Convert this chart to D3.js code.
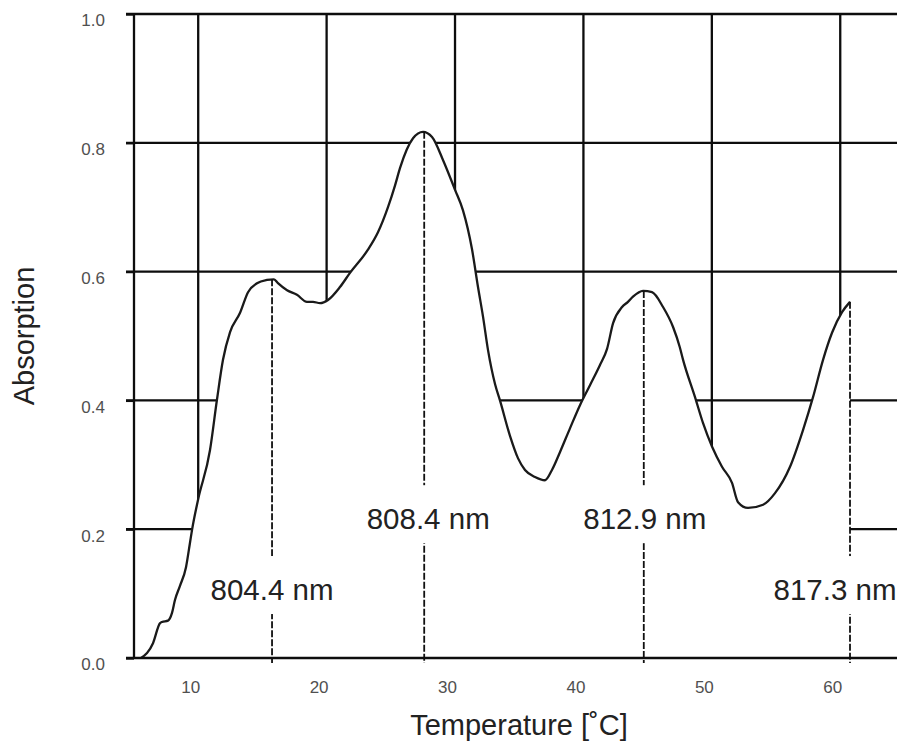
<!DOCTYPE html>
<html>
<head>
<meta charset="utf-8">
<script src="https://cdn.jsdelivr.net/npm/d3@7"></script>
<style>
body { margin: 0; background: #fff; }
text { font-family: "Liberation Sans", Arial, Helvetica, sans-serif; }
</style>
</head>
<body>
<div id="chart"></div>
<script>
// absorption curve
var temps = [5.55, 6.48, 7.02, 7.18, 7.65, 7.96, 8.19, 8.58, 9.05, 9.36, 9.52, 9.98,
             10.92, 11.46, 11.93, 12.48, 13.26, 13.88, 14.58, 15.36, 15.9, 16.21, 16.92,
             17.69, 18.47, 18.94, 19.49, 20.11, 21.04, 21.82, 23.22, 24.0, 24.78, 25.33,
             25.72, 26.73, 27.51, 28.21, 29.07, 30.0, 30.62, 31.32, 31.79, 32.18, 32.57,
             33.12, 33.5, 34.28, 34.91, 35.45, 36.23, 37.01, 37.55, 38.18, 38.96, 39.74,
             40.52, 41.29, 41.84, 42.31, 43.01, 43.47, 43.86, 44.64, 45.34, 46.2, 46.98,
             47.5, 47.76, 48.69, 49.31, 50.02, 50.79, 51.57, 52.04, 52.82, 53.99, 54.92,
             56.09, 57.1, 57.88, 58.66, 59.36, 60.14, 60.76];
var absorb = [0.0, 0.023, 0.054, 0.056, 0.058, 0.07, 0.09, 0.112, 0.141, 0.179, 0.199, 0.245,
              0.323, 0.401, 0.463, 0.506, 0.536, 0.568, 0.582, 0.587, 0.588, 0.582, 0.571,
              0.564, 0.553, 0.553, 0.551, 0.556, 0.576, 0.598, 0.634, 0.661, 0.7, 0.734,
              0.761, 0.807, 0.817, 0.809, 0.773, 0.727, 0.695, 0.635, 0.576, 0.53, 0.478,
              0.425, 0.4, 0.345, 0.31, 0.292, 0.281, 0.276, 0.292, 0.32, 0.357, 0.393,
              0.424, 0.455, 0.48, 0.52, 0.545, 0.553, 0.561, 0.57, 0.568, 0.545, 0.514,
              0.483, 0.463, 0.405, 0.365, 0.328, 0.297, 0.272, 0.242, 0.233, 0.238, 0.256,
              0.297, 0.354, 0.405, 0.463, 0.505, 0.537, 0.553];

// peaks and their wavelength labels
var peakTemps  = [15.75, 27.6, 44.7, 60.76];
var peakAbs    = [0.588, 0.817, 0.57, 0.553];
var peakLabels = ["804.4 nm", "808.4 nm", "812.9 nm", "817.3 nm"];
var labelLevel = [0.09, 0.2, 0.2, 0.09];
var labelShift = [0, 4, 1, -15];

var xTicks = [10, 20, 30, 40, 50, 60];
var yTicks = [0, 0.2, 0.4, 0.6, 0.8, 1.0];

var W = 897, H = 746;
var margin = {top: 14, left: 134, bottom: 88};
var width = W - margin.left,
    height = H - margin.top - margin.bottom;

var svg = d3.select("#chart").append("svg")
    .attr("width", W)
    .attr("height", H)
    .style("background", "#fff");

var g = svg.append("g")
    .attr("transform", "translate(" + margin.left + "," + margin.top + ")");

var x = d3.scaleLinear().domain([5, 64.42]).range([0, width]);
var y = d3.scaleLinear().domain([0, 1]).range([height, 0]);

var data = temps.map(function(t, i) { return {t: t, a: absorb[i]}; });

// grid
g.append("g").selectAll("line")
    .data(yTicks.filter(function(d) { return d > 0; }))
    .enter().append("line")
    .attr("x1", -8).attr("x2", width)
    .attr("y1", function(d) { return y(d); })
    .attr("y2", function(d) { return y(d); })
    .attr("stroke", "#0d0d0d").attr("stroke-width", 2.3);

g.append("g").selectAll("line")
    .data(xTicks)
    .enter().append("line")
    .attr("x1", function(d) { return x(d); })
    .attr("x2", function(d) { return x(d); })
    .attr("y1", 0).attr("y2", height)
    .attr("stroke", "#0d0d0d").attr("stroke-width", 2.3);

// white area under the curve hides the grid
var area = d3.area()
    .x(function(d) { return x(d.t); })
    .y0(y(0))
    .y1(function(d) { return y(d.a); })
    .curve(d3.curveMonotoneX);

g.append("path").datum(data)
    .attr("d", area)
    .attr("fill", "#fff");

var line = d3.line()
    .x(function(d) { return x(d.t); })
    .y(function(d) { return y(d.a); })
    .curve(d3.curveMonotoneX);

g.append("path").datum(data)
    .attr("d", line)
    .attr("fill", "none")
    .attr("stroke", "#1a1a1a")
    .attr("stroke-width", 2.3);

// peak markers
g.append("g").selectAll("line")
    .data(peakTemps)
    .enter().append("line")
    .attr("x1", function(d) { return x(d); })
    .attr("x2", function(d) { return x(d); })
    .attr("y1", function(d, i) { return y(peakAbs[i]); })
    .attr("y2", y(0) + 5)
    .attr("stroke", "#111")
    .attr("stroke-width", 1.8)
    .attr("stroke-dasharray", "7,2");

var labels = g.append("g").selectAll("g")
    .data(peakLabels)
    .enter().append("g")
    .attr("transform", function(d, i) {
      return "translate(" + (x(peakTemps[i]) + labelShift[i]) + "," + y(labelLevel[i]) + ")";
    });

labels.append("rect")
    .attr("x", -62).attr("width", 124)
    .attr("y", -44).attr("height", 58)
    .attr("fill", "#fff");

labels.append("text")
    .attr("text-anchor", "middle")
    .attr("font-size", 29.5)
    .attr("fill", "#222")
    .text(function(d) { return d; });

// axes
var yAxis = g.append("g")
    .call(d3.axisLeft(y).tickValues(yTicks).tickSize(8).tickPadding(21)
          .tickFormat(d3.format(".1f")));
yAxis.select(".domain").remove();
yAxis.selectAll(".tick line").attr("stroke", "#0d0d0d").attr("stroke-width", 2.3);
yAxis.selectAll("text")
    .attr("dy", "0.7em")
    .attr("font-size", 17)
    .attr("fill", "#505050")
    .style("font-family", "Liberation Sans, Arial, sans-serif");

var xAxis = g.append("g")
    .attr("transform", "translate(0," + height + ")")
    .call(d3.axisBottom(x).tickValues(xTicks).tickSize(0).tickPadding(23));
xAxis.select(".domain").remove();
xAxis.selectAll("text")
    .attr("dx", -8)
    .attr("font-size", 17)
    .attr("fill", "#505050")
    .style("font-family", "Liberation Sans, Arial, sans-serif");

g.append("line")
    .attr("x1", -8).attr("x2", width)
    .attr("y1", height).attr("y2", height)
    .attr("stroke", "#0d0d0d").attr("stroke-width", 2.3);

g.append("line")
    .attr("x1", 0).attr("x2", 0)
    .attr("y1", 0).attr("y2", height)
    .attr("stroke", "#0d0d0d").attr("stroke-width", 2.3);

// titles
g.append("text")
    .attr("x", 385).attr("y", height + 77)
    .attr("text-anchor", "middle")
    .attr("font-size", 29)
    .attr("fill", "#222")
    .text("Temperature [˚C]");

g.append("text")
    .attr("transform", "translate(-100," + (height / 2) + ") rotate(-90)")
    .attr("text-anchor", "middle")
    .attr("font-size", 29)
    .attr("fill", "#222")
    .text("Absorption");
</script>
</body>
</html>
